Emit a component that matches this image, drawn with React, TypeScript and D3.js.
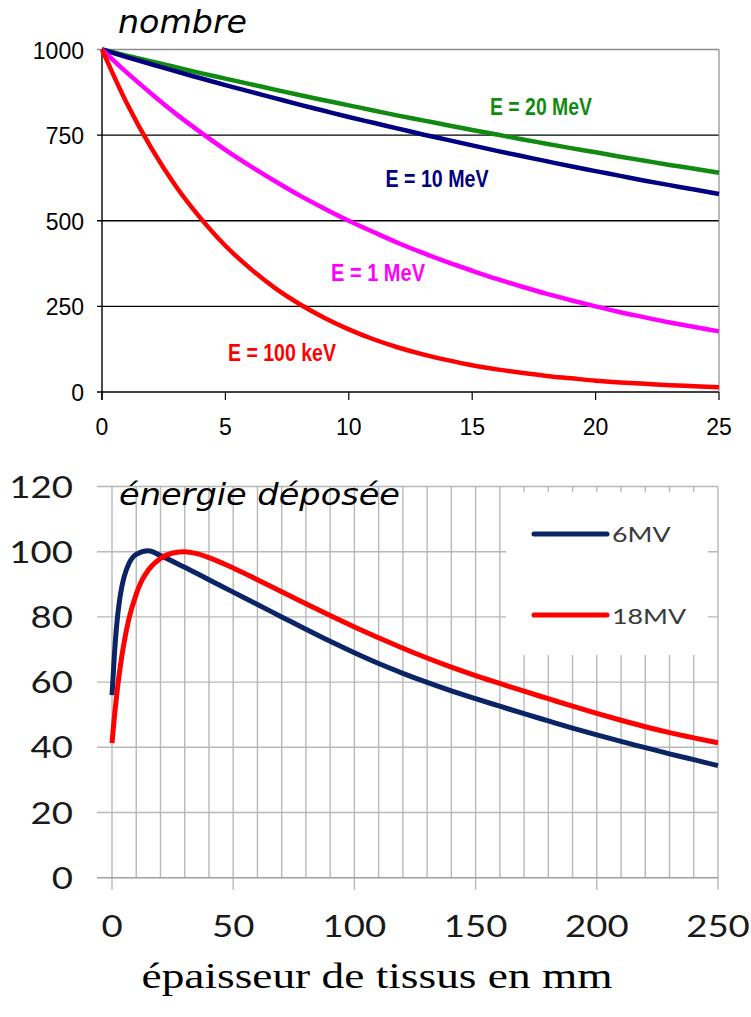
import React from "react";
import * as d3 from "d3";

// top chart: number of photons left vs thickness
const thickness = [0, 1, 2, 3, 4, 5, 6, 7, 8, 9, 10, 11, 12, 13, 14, 15, 16, 17, 18, 19, 20, 21, 22, 23, 24, 25];
const n20MeV = [1000, 982, 965, 948, 931, 915, 899, 883, 867, 852, 837, 822, 807, 793, 779, 765, 752, 738, 725, 712, 700, 687, 675, 663, 652, 640];
const n10MeV = [1000, 978, 957, 936, 916, 896, 877, 858, 839, 821, 803, 786, 769, 752, 736, 720, 704, 689, 674, 659, 645, 631, 617, 604, 591, 578];
const n1MeV = [1000, 933, 871, 812, 758, 707, 660, 616, 574, 536, 500, 467, 435, 406, 379, 354, 330, 308, 287, 268, 250, 233, 218, 203, 190, 177];
const n100keV = [1000, 844, 712, 600, 507, 427, 361, 304, 257, 217, 183, 154, 130, 110, 93, 78, 66, 56, 47, 40, 33, 28, 24, 20, 17, 14];
const topYTicks = [0, 250, 500, 750, 1000];
const topXTicks = [0, 5, 10, 15, 20, 25];

// bottom chart: deposited energy vs depth (mm)
const depth6 = [0, 1, 2, 3, 4, 5, 7, 10, 15, 20, 30, 40, 50, 60, 70, 80, 90, 100, 110, 120, 130, 140, 150, 160, 170, 180, 190, 200, 210, 220, 230, 240, 250];
const dose6 = [56, 68.5, 78, 84.5, 89, 92.3, 96.4, 99.2, 100.3, 98.8, 95.2, 91.4, 87.6, 83.8, 80, 76.2, 72.5, 69, 65.7, 62.7, 59.9, 57.3, 54.9, 52.6, 50.3, 48.1, 45.9, 43.8, 41.8, 39.9, 38, 36.2, 34.4];
const depth18 = [0, 1, 2, 3, 4, 5, 7, 10, 12, 15, 20, 25, 30, 35, 40, 50, 60, 70, 80, 90, 100, 110, 120, 130, 140, 150, 160, 170, 180, 190, 200, 210, 220, 230, 240, 250];
const dose18 = [41.3, 49.5, 56.5, 62.5, 67.7, 72.2, 79.5, 87, 90.7, 94.4, 97.9, 99.6, 100, 99.4, 98.2, 95, 91.4, 87.7, 84, 80.4, 76.9, 73.6, 70.4, 67.4, 64.6, 62, 59.6, 57.2, 54.9, 52.6, 50.4, 48.3, 46.3, 44.5, 42.9, 41.4];
const bottomYTicks = [0, 20, 40, 60, 80, 100, 120];
const bottomXTicks = [0, 50, 100, 150, 200, 250];
const bottomGrid = d3.range(0, 251, 10);

const narrow = "'Liberation Sans Narrow', 'Arial Narrow', 'Liberation Sans', Arial, sans-serif";
const calibri = "Lato, 'Open Sans', sans-serif";

function TopChart() {
  const x = d3.scaleLinear().domain([0, 25]).range([102, 719]);
  const y = d3.scaleLinear().domain([0, 1000]).range([392, 49.5]);
  const line = d3.line<number>()
    .x((d, i) => x(thickness[i]))
    .y(d => y(d))
    .curve(d3.curveMonotoneX);

  const series = [
    { values: n20MeV, color: "#118a11", label: "E = 20 MeV", lx: 541, ly: 115, w: 102 },
    { values: n10MeV, color: "#000080", label: "E = 10 MeV", lx: 437, ly: 187, w: 103 },
    { values: n1MeV, color: "#ff00ff", label: "E = 1 MeV", lx: 378, ly: 281, w: 94 },
    { values: n100keV, color: "#ff0000", label: "E = 100 keV", lx: 282, ly: 361, w: 108 },
  ];

  return (
    <g>
      <text x={118} y={33} fontFamily="'DejaVu Sans', sans-serif" fontStyle="italic" fontSize={32}
        textLength={129} lengthAdjust="spacingAndGlyphs">nombre</text>
      {/* horizontal lines */}
      {topYTicks.map(t => (
        <line key={t} x1={97} x2={719} y1={y(t)} y2={y(t)}
          stroke={t === 1000 ? "#8c8c8c" : "#000"} strokeWidth={1.4} />
      ))}
      <line x1={719} x2={719} y1={y(1000)} y2={y(0)} stroke="#8c8c8c" strokeWidth={1.2} />
      <line x1={102} x2={102} y1={y(1000)} y2={y(0) + 8} stroke="#000" strokeWidth={1.4} />
      {topXTicks.map(t => (
        <g key={t}>
          <line x1={x(t)} x2={x(t)} y1={y(0)} y2={y(0) + 8} stroke="#000" strokeWidth={1.2} />
          <text x={x(t)} y={435} textAnchor="middle" fontFamily={narrow} fontSize={23}>{t}</text>
        </g>
      ))}
      {topYTicks.map(t => (
        <text key={t} x={84} y={y(t) + 9} textAnchor="end" fontFamily={narrow} fontSize={23}>{t}</text>
      ))}
      {series.map(s => (
        <path key={s.label} d={line(s.values) || ""} fill="none" stroke={s.color} strokeWidth={4.5} />
      ))}
      {series.map(s => (
        <text key={s.label} x={s.lx} y={s.ly} textAnchor="middle" fill={s.color} fontFamily={narrow}
          fontWeight="bold" fontSize={24} textLength={s.w} lengthAdjust="spacingAndGlyphs">{s.label}</text>
      ))}
    </g>
  );
}

function BottomChart() {
  const x = d3.scaleLinear().domain([0, 250]).range([112, 718]);
  const y = d3.scaleLinear().domain([0, 120]).range([877.7, 486.5]);
  const line = (xs: number[]) => d3.line<number>()
    .x((d, i) => x(xs[i]))
    .y(d => y(d))
    .curve(d3.curveMonotoneX);
  const grid = "#b8b8b8";
  const sx = 1.22;

  return (
    <g>
      {bottomGrid.map(t => (
        <line key={t} x1={x(t)} x2={x(t)} y1={y(120)}
          y2={t % 50 === 0 ? y(0) + 12 : y(0)} stroke={grid} strokeWidth={1.4} />
      ))}
      {bottomYTicks.map(t => (
        <line key={t} x1={97} x2={718} y1={y(t)} y2={y(t)} stroke={t === 0 ? "#a0a0a0" : grid} strokeWidth={1.4} />
      ))}
      {/* legend box */}
      <rect x={506} y={492} width={202} height={163} fill="#fff" />
      <line x1={534} x2={607} y1={534} y2={534} stroke="#0a2466" strokeWidth={5} strokeLinecap="round" />
      <line x1={534} x2={607} y1={615} y2={615} stroke="#ff0000" strokeWidth={5} strokeLinecap="round" />
      <text transform={`translate(612,542) scale(${sx},1)`} fill="#3a3a3a" fontFamily={calibri} fontSize={22}>6MV</text>
      <text transform={`translate(612,624) scale(${sx},1)`} fill="#3a3a3a" fontFamily={calibri} fontSize={22}>18MV</text>

      <path d={line(depth6)(dose6) || ""} fill="none" stroke="#0a2466" strokeWidth={5} />
      <path d={line(depth18)(dose18) || ""} fill="none" stroke="#ff0000" strokeWidth={5} />

      {bottomYTicks.map(t => (
        <text key={t} transform={`translate(73,${y(t) + 11}) scale(${sx},1)`} textAnchor="end"
          fill="#1a1a1a" fontFamily={calibri} fontSize={30}>{t}</text>
      ))}
      {bottomXTicks.map(t => (
        <text key={t} transform={`translate(${x(t)},937) scale(${sx},1)`} textAnchor="middle"
          fill="#1a1a1a" fontFamily={calibri} fontSize={30}>{t}</text>
      ))}
      <text x={119} y={505} fontFamily="'DejaVu Sans', sans-serif" fontStyle="italic" fontSize={30}
        textLength={281} lengthAdjust="spacingAndGlyphs">énergie déposée</text>
      <text x={377} y={988} textAnchor="middle" fontFamily="'Liberation Serif', 'Times New Roman', serif"
        fontSize={36} textLength={471} lengthAdjust="spacingAndGlyphs">épaisseur de tissus en mm</text>
    </g>
  );
}

export default function App() {
  return (
    <svg width={751} height={1017} style={{ position: "absolute", left: 0, top: 0, background: "#fff" }}>
      <rect width={751} height={1017} fill="#fff" />
      <TopChart />
      <BottomChart />
    </svg>
  );
}
